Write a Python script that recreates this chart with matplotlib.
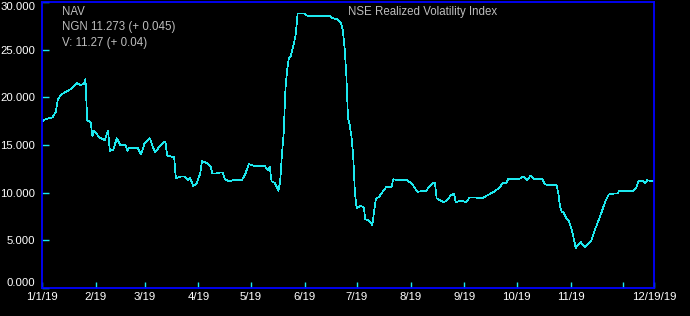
from __future__ import annotations

import matplotlib

matplotlib.use("Agg")
import matplotlib.dates as mdates
import matplotlib.pyplot as plt
import numpy as np

# Days elapsed since 1 Jan 2019 and the index level.
DAYS_SINCE_JAN1 = [
    0, 2, 6, 8, 9, 11, 16, 20, 22, 24, 25, 26, 28, 29, 30, 33, 36, 38, 39, 41,
    43, 45, 48, 49, 50, 55, 57, 59, 62, 65, 67, 70, 71, 72, 76, 77, 80, 82, 84, 85,
    87, 89, 90, 91, 92, 95, 97, 98, 100, 102, 104, 105, 107, 110, 115, 117, 119, 122, 128, 130,
    131, 132, 134, 136, 137, 138, 139, 140, 141, 142, 143, 145, 146, 147, 148, 151, 153, 155, 166, 167,
    170, 172, 173, 174, 175, 176, 177, 178, 179, 180, 181, 183, 185, 186, 188, 190, 191, 192, 194, 196,
    198, 201, 202, 205, 210, 213, 214, 216, 221, 223, 225, 226, 227, 231, 233, 235, 237, 238, 240, 242,
    244, 246, 249, 253, 257, 260, 263, 265, 267, 268, 274, 277, 279, 281, 283, 288, 289, 291, 296, 297,
    298, 299, 300, 302, 303, 305, 307, 308, 310, 312, 314, 316, 318, 321, 324, 326, 329, 331, 332, 340,
    342, 343, 346, 347, 348, 351, 352,
]
NAV_VALUES = [
    17.5, 17.7, 17.9, 18.5, 19.7, 20.3, 20.8, 21.5, 21.3, 21.4, 21.9, 17.6, 17.4, 15.9, 16.5, 15.8, 15.5, 16.5, 14.4, 14.5,
    15.7, 15.0, 15.0, 14.4, 14.7, 14.7, 14.0, 15.2, 15.7, 14.2, 14.7, 15.3, 15.3, 13.9, 13.7, 11.5, 11.7, 11.7, 11.3, 11.6,
    10.7, 11.0, 11.5, 12.0, 13.3, 13.1, 12.7, 12.0, 12.0, 12.1, 12.1, 11.5, 11.2, 11.3, 11.3, 12.0, 13.0, 12.8, 12.8, 12.4,
    12.7, 11.2, 11.0, 10.2, 11.2, 14.0, 16.2, 20.8, 22.9, 24.1, 24.3, 25.7, 26.7, 28.8, 28.8, 28.8, 28.5, 28.5, 28.5, 28.3,
    28.2, 27.8, 27.1, 25.3, 22.5, 17.8, 17.1, 15.9, 13.8, 9.9, 8.4, 8.6, 8.5, 7.2, 7.1, 6.6, 8.0, 9.3, 9.6, 10.1,
    10.6, 10.6, 11.4, 11.3, 11.3, 10.9, 10.6, 10.1, 10.2, 10.7, 11.0, 11.0, 9.4, 9.0, 9.2, 9.7, 9.9, 9.0, 9.1, 9.1,
    9.0, 9.5, 9.5, 9.4, 9.8, 10.1, 10.5, 11.0, 11.0, 11.4, 11.4, 11.7, 11.3, 11.8, 11.4, 11.4, 10.9, 10.8, 10.8, 9.9,
    8.5, 8.0, 7.9, 7.2, 7.0, 5.9, 4.2, 4.5, 4.8, 4.3, 4.6, 5.0, 6.1, 7.5, 9.1, 9.8, 9.9, 9.9, 10.2, 10.2,
    10.6, 11.2, 11.2, 11.0, 11.3, 11.2, 11.273,
]

START_DATE = "2019-01-01"
END_DATE = "2019-12-19"
MONTH_TICKS = ["2019-02-01", "2019-03-01", "2019-04-01", "2019-05-01", "2019-06-01",
               "2019-07-01", "2019-08-01", "2019-09-01", "2019-10-01", "2019-11-01", "2019-12-01"]
X_TICK_LABELS = ["1/1/19", "2/19", "3/19", "4/19", "5/19", "6/19", "7/19",
                 "8/19", "9/19", "10/19", "11/19", "", "12/19/19"]
Y_TICKS = [0, 5, 10, 15, 20, 25, 30]

TITLE = "NSE Realized Volatility Index"
INFO_LINES = ["NAV", "NGN 11.273 (+ 0.045)", "V: 11.27 (+ 0.04)"]

LINE_COLOR = "#1de9ef"
FRAME_COLOR = "#0000ff"
TEXT_COLOR = "#bdbdbd"
FONT = ["Liberation Sans", "DejaVu Sans"]


def main() -> None:
    plt.rcParams["font.family"] = FONT

    start = np.datetime64(START_DATE)
    dates = start + np.array(DAYS_SINCE_JAN1, dtype="timedelta64[D]")

    fig = plt.figure(figsize=(6.9, 3.16), dpi=100, facecolor="black")
    ax = fig.add_axes([42 / 690, 28 / 316, 612 / 690, 286 / 316], facecolor="black")

    ax.plot(dates, NAV_VALUES, color=LINE_COLOR, linewidth=0.5, antialiased=False)

    ax.set_xlim(start, np.datetime64(END_DATE))
    ax.set_ylim(Y_TICKS[0], Y_TICKS[-1])

    x_ticks = [start] + [np.datetime64(d) for d in MONTH_TICKS] + [np.datetime64(END_DATE)]
    ax.set_xticks(mdates.date2num(x_ticks))
    ax.set_xticklabels(X_TICK_LABELS)
    ax.set_yticks(Y_TICKS)
    ax.set_yticklabels([f"{v:.3f}" for v in Y_TICKS])

    ax.tick_params(axis="both", direction="in", colors=LINE_COLOR, labelcolor="white",
                   labelsize=8.2, length=4, width=1)
    ax.tick_params(axis="x", pad=3)
    ax.tick_params(axis="y", pad=5, length=5)

    # keep the end labels inside the frame, as the terminal does
    ylabels = ax.get_yticklabels()
    ylabels[0].set_verticalalignment("bottom")
    ylabels[-1].set_verticalalignment("top")

    for spine in ax.spines.values():
        spine.set_color(FRAME_COLOR)
        spine.set_linewidth(1.3)

    for i, line in enumerate(INFO_LINES):
        ax.text(0.033, 0.985 - i * 0.053, line, transform=ax.transAxes, color=TEXT_COLOR,
                fontsize=8.3, va="top", ha="left")
    ax.text(0.50, 0.985, TITLE, transform=ax.transAxes, color=TEXT_COLOR,
            fontsize=8.3, va="top", ha="left")

    fig.savefig("out.png", dpi=100, facecolor="black")


if __name__ == "__main__":
    main()
